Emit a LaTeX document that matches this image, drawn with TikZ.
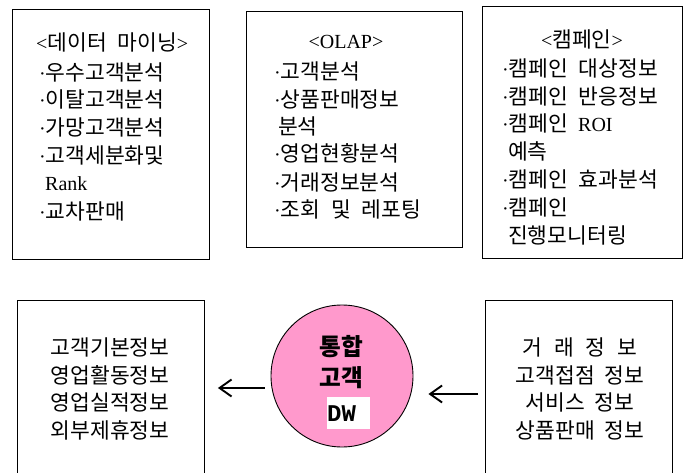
\documentclass[tikz,border=0pt]{standalone}
\usepackage{fontspec}
\setmainfont{Liberation Serif}
\newfontfamily\kr[Scale=1.075]{Noto Sans CJK KR}
\newfontfamily\dwfont{Liberation Mono}
\usetikzlibrary{arrows.meta}
\definecolor{dwpink}{HTML}{FF99CC}
\begin{document}
\begin{tikzpicture}[x=1pt,y=-1pt,
  box/.style={draw, line width=0.9pt, anchor=north west, inner sep=0pt},
  ln/.style={anchor=base west, inner sep=0pt, font=\fontsize{20}{20}\selectfont},
  hd/.style={anchor=base, inner sep=0pt, font=\fontsize{20}{20}\selectfont},
  ctr/.style={anchor=base, inner sep=0pt, font=\fontsize{20}{20}\selectfont\kr},
  arr/.style={line width=1.4pt, -{Straight Barb[length=12pt,width=17pt,line width=1.9pt]}}
]
\useasboundingbox (0,0) rectangle (685,473);

% top boxes
\node[box, minimum width=197pt, minimum height=250pt] (b1) at (12,9) {};
\node[box, minimum width=216pt, minimum height=236pt] (b2) at (246,11) {};
\node[box, minimum width=200pt, minimum height=252pt] (b3) at (482,6) {};

% box 1 text
\node[ln] (b1h) at (36,51) {<{\kr 데이터\hspace{.5em}마이닝}>};
\node[ln] (b1a) at (39,81) {·{\kr 우수고객분석}};
\node[ln] (b1b) at (39,108) {·{\kr 이탈고객분석}};
\node[ln] (b1c) at (39,136) {·{\kr 가망고객분석}};
\node[ln] (b1d) at (39,164) {·{\kr 고객세분화및}};
\node[ln] (b1e) at (45,190) {Rank};
\node[ln] (b1f) at (39,219) {·{\kr 교차판매}};

% box 2 text
\node[hd] (b2h) at (346,49) {<OLAP>};
\node[ln] (b2a) at (274,80) {·{\kr 고객분석}};
\node[ln] (b2b) at (274,108) {·{\kr 상품판매정보}};
\node[ln] (b2c) at (278,135) {{\kr 분석}};
\node[ln] (b2d) at (274,162) {·{\kr 영업현황분석}};
\node[ln] (b2e) at (274,191) {·{\kr 거래정보분석}};
\node[ln] (b2f) at (274,218) {·{\kr 조회\hspace{.5em}및\hspace{.5em}레포팅}};

% box 3 text
\node[hd] (b3h) at (582,48) {<{\kr 캠페인}>};
\node[ln] (b3a) at (502,77) {·{\kr 캠페인\hspace{.5em}대상정보}};
\node[ln] (b3b) at (502,105) {·{\kr 캠페인\hspace{.5em}반응정보}};
\node[ln] (b3c) at (502,132) {·{\kr 캠페인}\hspace{.5em}ROI};
\node[ln] (b3d) at (508,160) {{\kr 예측}};
\node[ln] (b3e) at (502,188) {·{\kr 캠페인\hspace{.5em}효과분석}};
\node[ln] (b3f) at (502,215) {·{\kr 캠페인}};
\node[ln] (b3g) at (508,243) {{\kr 진행모니터링}};

% bottom boxes
\node[box, minimum width=187pt, minimum height=200pt] (bl) at (17,300) {};
\node[box, minimum width=187pt, minimum height=200pt] (br) at (485,300) {};

\node[ctr] (bla) at (110,355) {고객기본정보};
\node[ctr] (blb) at (110,383) {영업활동정보};
\node[ctr] (blc) at (110,410) {영업실적정보};
\node[ctr] (bld) at (110,438) {외부제휴정보};

\node[ctr] (bra) at (580,355) {거\hspace{.55em}래\hspace{.55em}정\hspace{.55em}보};
\node[ctr] (brb) at (580,383) {고객접점\hspace{.45em}정보};
\node[ctr] (brc) at (580,410) {서비스\hspace{.45em}정보};
\node[ctr] (brd) at (580,438) {상품판매\hspace{.45em}정보};

% centre circle
\node[circle, draw, line width=0.9pt, fill=dwpink, minimum size=142pt, inner sep=0pt] (dw) at (342,376) {};
\node[inner sep=0pt, font=\fontsize{22}{22}\selectfont\kr\bfseries] (dw1) at (341,347) {통합};
\node[inner sep=0pt, font=\fontsize{22}{22}\selectfont\kr\bfseries] (dw2) at (341,378) {고객};
\node[fill=white, anchor=north west, inner sep=0pt, minimum height=32pt, text width=43pt, align=left,
      font=\fontsize{24}{24}\selectfont\dwfont\bfseries] (dw3) at (327,397) {DW};

% arrows
\coordinate (la) at (0,388);
\coordinate (ra) at (0,394);
\draw[arr, shorten <=6pt, shorten >=13pt] (dw.west |- la) -- (bl.east |- la);
\draw[arr, shorten <=7pt, shorten >=15pt] (br.west |- ra) -- (dw.east |- ra);
\end{tikzpicture}
\end{document}
